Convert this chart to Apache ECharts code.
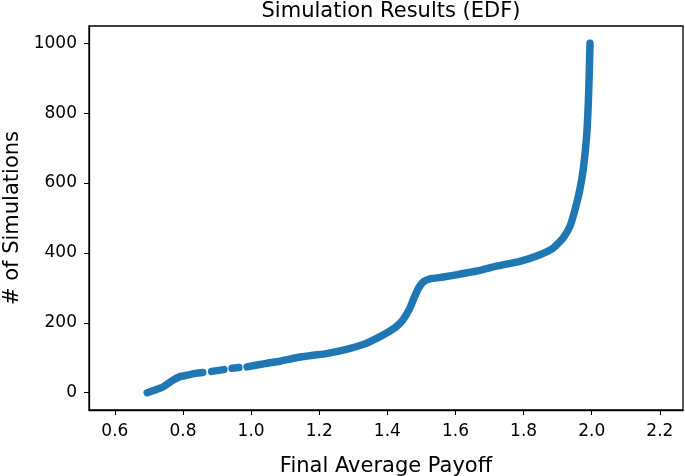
<!DOCTYPE html>
<html>
<head>
<meta charset="utf-8">
<script src="https://cdn.jsdelivr.net/npm/echarts@6/dist/echarts.min.js"></script>
<style>html,body{margin:0;padding:0;background:#fff}#c{width:685px;height:476px}</style>
</head>
<body>
<div id="c"></div>
<script>
// null entries mark small gaps between sparse runs of points
const payoffX = [0.695,0.722,0.742,0.771,0.791,0.81,0.84,0.858,null,0.884,0.92,null,0.944,0.964,null,0.988,1.045,1.084,1.133,1.182,1.221,1.28,1.329,1.349,1.398,1.425,1.446,1.465,1.48,1.493,1.507,1.525,1.564,1.623,1.672,1.72,1.789,1.848,1.887,1.916,1.936,1.951,1.965,1.975,1.985,1.99,1.993,1.995];
const simCount = [0,9,17,36,46,50,56,58,null,61,66,null,70,72,null,74,84,90,100,107,112,124,138,146,171,188,209,240,275,302,318,326,331,341,350,362,376,395,414,443,476,524,581,638,733,829,924,1000];
const xTicks = [0.6,0.8,1.0,1.2,1.4,1.6,1.8,2.0,2.2];
const yTicks = [0,200,400,600,800,1000];

const font = 'DejaVu Sans';
const chart = echarts.init(document.getElementById('c'), null, {renderer:'canvas'});
chart.setOption({
  animation:false,
  title:{text:'Simulation Results (EDF)', left:386, textAlign:'center', top:-4,
    textStyle:{fontFamily:font, fontSize:21, fontWeight:'normal', color:'#000'}},
  grid:{left:89, right:2, top:26, bottom:66, containLabel:false, outerBoundsMode:'none',
    show:true, borderColor:'#000', borderWidth:1.3, backgroundColor:'#fff'},
  xAxis:{type:'value', min:0.524, max:2.268,
    name:'Final Average Payoff', nameLocation:'middle', nameGap:46,
    nameTextStyle:{fontFamily:font, fontSize:21, color:'#000'},
    axisLine:{show:true, onZero:false, lineStyle:{color:'#000', width:1.3}}, splitLine:{show:false},
    axisTick:{show:true, length:5, inside:false, customValues:xTicks, lineStyle:{color:'#000', width:1}},
    axisLabel:{customValues:xTicks, fontFamily:font, fontSize:17, color:'#000', margin:13,
      formatter:v=>Number(v).toFixed(1)}},
  yAxis:{type:'value', min:-49.5, max:1049.5,
    name:'# of Simulations', nameLocation:'middle', nameGap:66,
    nameTextStyle:{fontFamily:font, fontSize:21, color:'#000'},
    axisLine:{show:true, onZero:false, lineStyle:{color:'#000', width:1.3}}, splitLine:{show:false},
    axisTick:{show:true, length:5, inside:false, customValues:yTicks, lineStyle:{color:'#000', width:1}},
    axisLabel:{customValues:yTicks, fontFamily:font, fontSize:17, color:'#000', margin:12,
      formatter:v=>String(v)}},
  series:[{type:'line', connectNulls:false,
    data:payoffX.map((x,i)=> x===null ? '-' : [x, simCount[i]]),
    showSymbol:false, smooth:0.15,
    lineStyle:{color:'#1f77b4', width:7.5, cap:'round', join:'round'}}]
});
</script>
</body>
</html>
